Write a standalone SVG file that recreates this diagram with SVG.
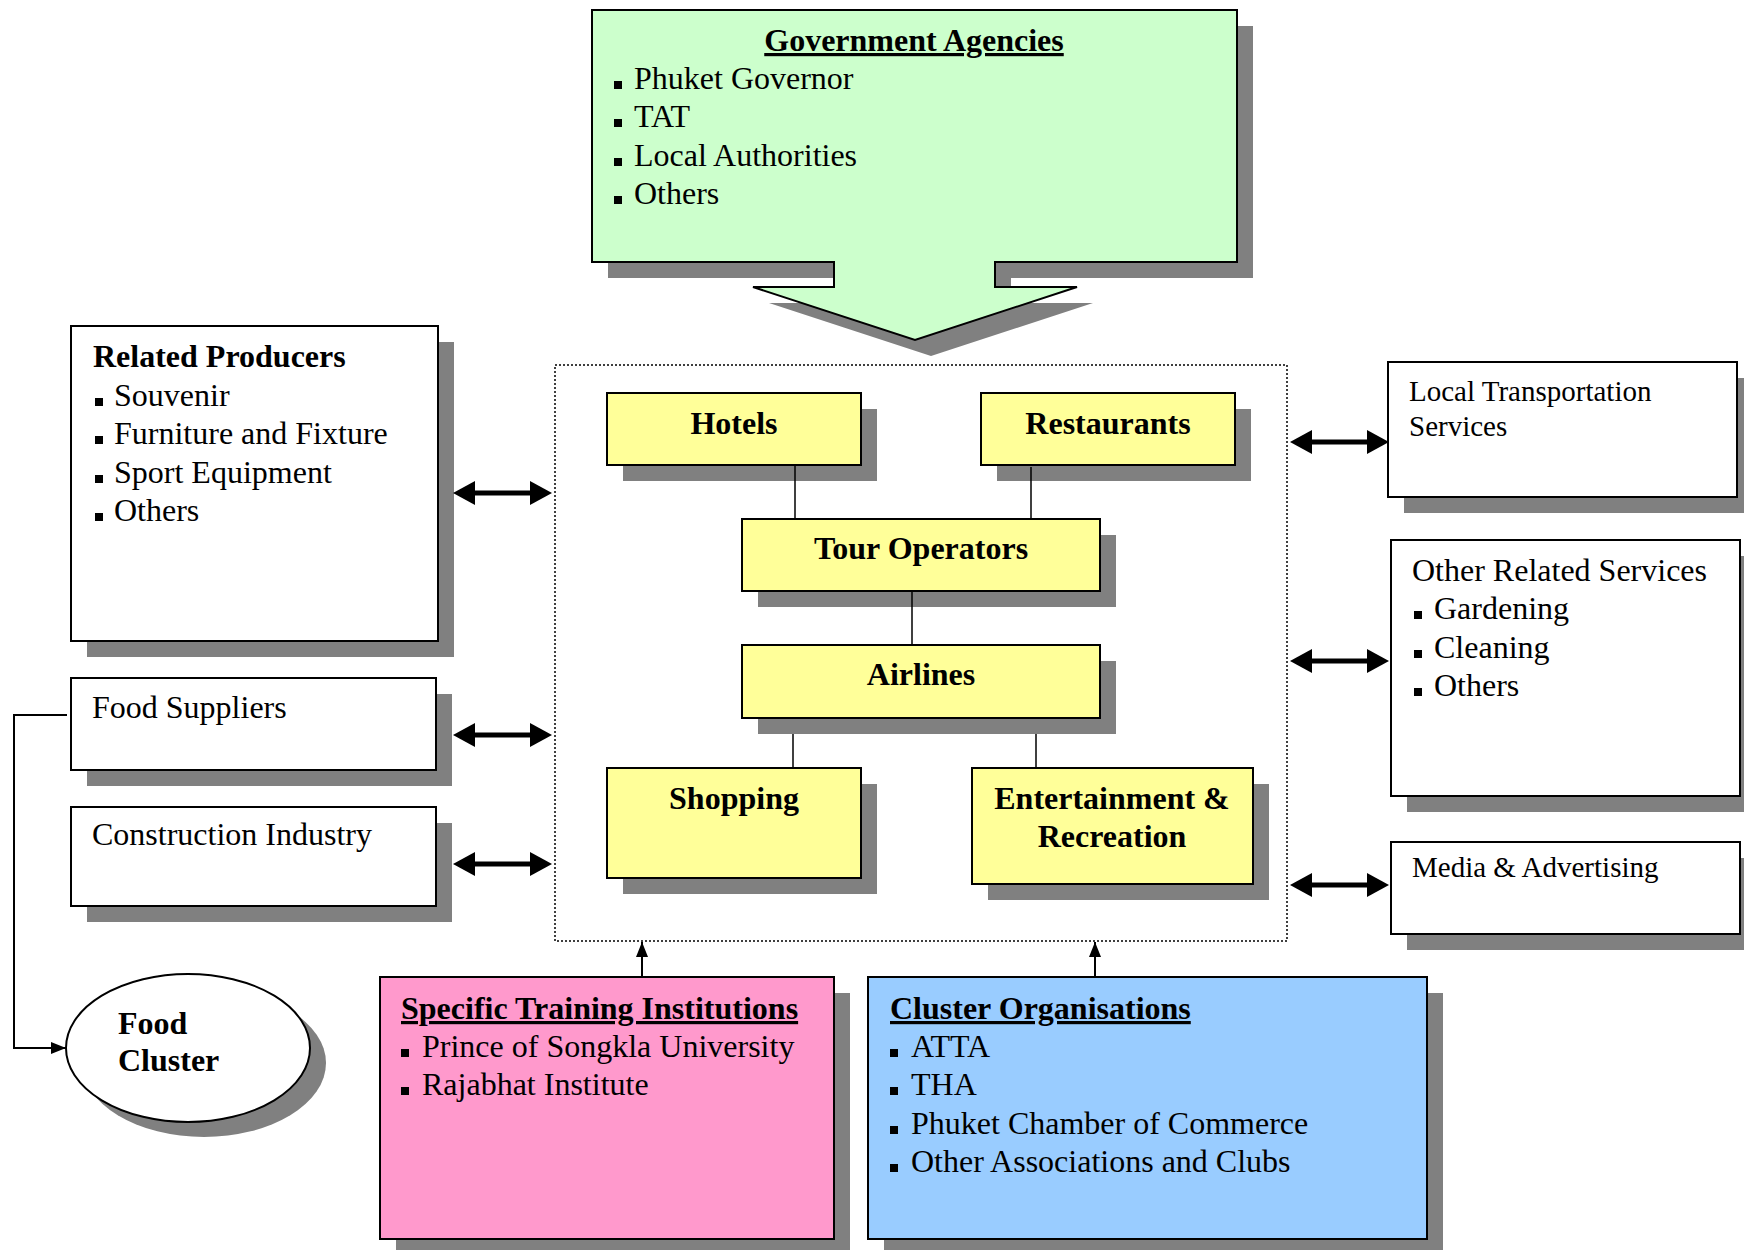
<svg xmlns="http://www.w3.org/2000/svg" width="1744" height="1250" viewBox="0 0 1744 1250">
<defs>
<style>
.sh{fill:#808080}
.bx{stroke:#000;stroke-width:2}
.w{fill:#fff}
.g{fill:#CCFFCC}
.y{fill:#FFFF99}
.p{fill:#FF99CC}
.b{fill:#99CCFF}
text{font-family:"Liberation Serif","Times New Roman",serif;fill:#000}
.t32{font-size:32px}
.t29{font-size:29px}
.bd{font-weight:bold;font-size:32px}
.c{text-anchor:middle}
.u{text-decoration:underline}
.bul{fill:#000}
.ln{stroke:#000;stroke-width:1.5;fill:none}
.dbl{stroke:#000;stroke-width:5;fill:none;marker-start:url(#hd);marker-end:url(#hd)}
.sa{stroke:#000;stroke-width:2;fill:none;marker-end:url(#sm)}
</style>
<marker id="hd" viewBox="0 0 22 24" refX="1" refY="12" markerWidth="22" markerHeight="24" markerUnits="userSpaceOnUse" orient="auto-start-reverse">
<path d="M0,0 L22,12 L0,24 Z" fill="#000"/>
</marker>
<marker id="sm" viewBox="0 0 15 12" refX="15" refY="6" markerWidth="15" markerHeight="12" markerUnits="userSpaceOnUse" orient="auto">
<path d="M0,0 L15,6 L0,12 Z" fill="#000"/>
</marker>
</defs>
<rect width="1744" height="1250" fill="#fff"/>

<g id="cluster-core">
<rect x="555" y="365" width="732" height="576" fill="none" stroke="#000" stroke-width="1.5" stroke-dasharray="2 2"/>
</g>

<g id="government-agencies">
<path class="sh" transform="translate(16,16)" d="M592,10 H1237 V262 H995 V287 H1077 L915,340 L753,287 H834 V262 H592 Z"/>
<path class="g bx" d="M592,10 H1237 V262 H995 V287 H1077 L915,340 L753,287 H834 V262 H592 Z"/>
<text class="bd c u" x="914" y="51">Government Agencies</text>
<rect class="bul" x="614" y="81" width="8" height="8"/><text class="t32" x="634" y="89">Phuket Governor</text>
<rect class="bul" x="614" y="119" width="8" height="8"/><text class="t32" x="634" y="127">TAT</text>
<rect class="bul" x="614" y="158" width="8" height="8"/><text class="t32" x="634" y="166">Local Authorities</text>
<rect class="bul" x="614" y="196" width="8" height="8"/><text class="t32" x="634" y="204">Others</text>
</g>

<g id="related-producers">
<rect class="sh" x="87" y="342" width="367" height="315"/>
<rect class="w bx" x="71" y="326" width="367" height="315"/>
<text class="bd" x="93" y="367">Related Producers</text>
<rect class="bul" x="95" y="398" width="8" height="8"/><text class="t32" x="114" y="406">Souvenir</text>
<rect class="bul" x="95" y="436" width="8" height="8"/><text class="t32" x="114" y="444">Furniture and Fixture</text>
<rect class="bul" x="95" y="475" width="8" height="8"/><text class="t32" x="114" y="483">Sport Equipment</text>
<rect class="bul" x="95" y="513" width="8" height="8"/><text class="t32" x="114" y="521">Others</text>
</g>

<g id="food-suppliers">
<rect class="sh" x="87" y="694" width="365" height="92"/>
<rect class="w bx" x="71" y="678" width="365" height="92"/>
<text class="t32" x="92" y="718">Food Suppliers</text>
</g>

<g id="construction-industry">
<rect class="sh" x="87" y="823" width="365" height="99"/>
<rect class="w bx" x="71" y="807" width="365" height="99"/>
<text class="t32" x="92" y="845">Construction Industry</text>
</g>

<g id="food-cluster">
<ellipse class="sh" cx="204" cy="1063" rx="122" ry="74"/>
<ellipse class="w bx" cx="188" cy="1048" rx="122" ry="74"/>
<text class="bd" x="118" y="1034">Food</text>
<text class="bd" x="118" y="1071">Cluster</text>
</g>

<g id="hotels">
<rect class="sh" x="623" y="409" width="254" height="72"/>
<rect class="y bx" x="607" y="393" width="254" height="72"/>
<text class="bd c" x="734" y="434">Hotels</text>
</g>

<g id="restaurants">
<rect class="sh" x="997" y="409" width="254" height="72"/>
<rect class="y bx" x="981" y="393" width="254" height="72"/>
<text class="bd c" x="1108" y="434">Restaurants</text>
</g>

<g id="tour-operators">
<rect class="sh" x="758" y="535" width="358" height="72"/>
<rect class="y bx" x="742" y="519" width="358" height="72"/>
<text class="bd c" x="921" y="559">Tour Operators</text>
</g>

<g id="airlines">
<rect class="sh" x="758" y="661" width="358" height="73"/>
<rect class="y bx" x="742" y="645" width="358" height="73"/>
<text class="bd c" x="921" y="685">Airlines</text>
</g>

<g id="shopping">
<rect class="sh" x="623" y="784" width="254" height="110"/>
<rect class="y bx" x="607" y="768" width="254" height="110"/>
<text class="bd c" x="734" y="809">Shopping</text>
</g>

<g id="entertainment-recreation">
<rect class="sh" x="988" y="784" width="281" height="116"/>
<rect class="y bx" x="972" y="768" width="281" height="116"/>
<text class="bd c" x="1112" y="809">Entertainment &amp;</text>
<text class="bd c" x="1112" y="847">Recreation</text>
</g>

<g id="local-transportation">
<rect class="sh" x="1404" y="378" width="349" height="135"/>
<rect class="w bx" x="1388" y="362" width="349" height="135"/>
<text class="t29" x="1409" y="401">Local Transportation</text>
<text class="t29" x="1409" y="436">Services</text>
</g>

<g id="other-related-services">
<rect class="sh" x="1407" y="556" width="349" height="256"/>
<rect class="w bx" x="1391" y="540" width="349" height="256"/>
<text class="t32" x="1412" y="581">Other Related Services</text>
<rect class="bul" x="1414" y="611" width="8" height="8"/><text class="t32" x="1434" y="619">Gardening</text>
<rect class="bul" x="1414" y="650" width="8" height="8"/><text class="t32" x="1434" y="658">Cleaning</text>
<rect class="bul" x="1414" y="688" width="8" height="8"/><text class="t32" x="1434" y="696">Others</text>
</g>

<g id="media-advertising">
<rect class="sh" x="1407" y="858" width="349" height="92"/>
<rect class="w bx" x="1391" y="842" width="349" height="92"/>
<text class="t29" x="1412" y="877">Media &amp; Advertising</text>
</g>

<g id="specific-training-institutions">
<rect class="sh" x="396" y="993" width="454" height="262"/>
<rect class="p bx" x="380" y="977" width="454" height="262"/>
<text class="bd u" x="401" y="1019">Specific Training Institutions</text>
<rect class="bul" x="401" y="1049" width="8" height="8"/><text class="t32" x="422" y="1057">Prince of Songkla University</text>
<rect class="bul" x="401" y="1087" width="8" height="8"/><text class="t32" x="422" y="1095">Rajabhat Institute</text>
</g>

<g id="cluster-organisations">
<rect class="sh" x="884" y="993" width="559" height="262"/>
<rect class="b bx" x="868" y="977" width="559" height="262"/>
<text class="bd u" x="890" y="1019">Cluster Organisations</text>
<rect class="bul" x="890" y="1049" width="8" height="8"/><text class="t32" x="911" y="1057">ATTA</text>
<rect class="bul" x="890" y="1087" width="8" height="8"/><text class="t32" x="911" y="1095">THA</text>
<rect class="bul" x="890" y="1126" width="8" height="8"/><text class="t32" x="911" y="1134">Phuket Chamber of Commerce</text>
<rect class="bul" x="890" y="1164" width="8" height="8"/><text class="t32" x="911" y="1172">Other Associations and Clubs</text>
</g>

<g id="connectors">
<line class="ln" x1="795" y1="465" x2="795" y2="520"/>
<line class="ln" x1="1031" y1="467" x2="1031" y2="520"/>
<line class="ln" x1="912" y1="591" x2="912" y2="645"/>
<line class="ln" x1="793" y1="734" x2="793" y2="768"/>
<line class="ln" x1="1036" y1="734" x2="1036" y2="768"/>
<line class="dbl" x1="474" y1="493" x2="531" y2="493"/>
<line class="dbl" x1="474" y1="735" x2="531" y2="735"/>
<line class="dbl" x1="474" y1="864" x2="531" y2="864"/>
<line class="dbl" x1="1311" y1="442" x2="1368" y2="442"/>
<line class="dbl" x1="1311" y1="661" x2="1368" y2="661"/>
<line class="dbl" x1="1311" y1="885" x2="1368" y2="885"/>
<polyline class="sa" points="67,715 14,715 14,1048 66,1048"/>
<line class="sa" x1="642" y1="977" x2="642" y2="942"/>
<line class="sa" x1="1095" y1="977" x2="1095" y2="942"/>
</g>
</svg>
